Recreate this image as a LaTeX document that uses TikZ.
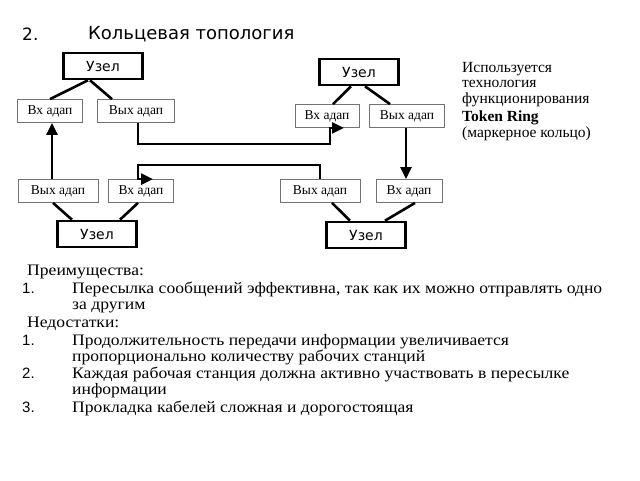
\documentclass[tikz,border=0pt]{standalone}
\usepackage{fontspec}
\setmainfont{Liberation Serif}
\newfontfamily\sansfnt{DejaVu Sans}
\newfontfamily\numfnt{Liberation Sans}
\newfontfamily\bodyfnt[FakeStretch=1.1]{Liberation Serif}
\usetikzlibrary{arrows.meta}

\begin{document}
\begin{tikzpicture}[x=1pt,y=-1pt,
    uzel/.style={draw,line width=2.6pt,minimum width=79pt,minimum height=26pt,
      inner sep=0pt,font=\sansfnt\fontsize{14}{14}\selectfont},
    adap/.style={draw=black!55,line width=0.8pt,minimum height=23pt,inner sep=0pt,
      font=\fontsize{13.5}{13.5}\selectfont},
    link/.style={line width=2.6pt},
    ring/.style={line width=2.6pt,-{Triangle[length=12pt,width=11pt]}},
    txt/.style={anchor=base west,inner sep=0pt,font=\bodyfnt\fontsize{16}{16}\selectfont},
    num/.style={anchor=base west,inner sep=0pt,font=\numfnt\fontsize{15}{15}\selectfont}]
  \useasboundingbox (0,0) rectangle (640,480);

  % title
  \node[anchor=base west,inner sep=0pt,font=\sansfnt\fontsize{17}{17}\selectfont] (tnum) at (22,40) {2.};
  \node[anchor=base west,inner sep=0pt,font=\sansfnt\fontsize{18}{18}\selectfont] (title) at (88,39) {Кольцевая топология};

  % nodes and adapters
  \node[uzel] (u1) at (103,66) {Узел};
  \node[adap,minimum width=65pt] (vx1) at (50,111) {Вх адап};
  \node[adap,minimum width=77pt] (vyx1) at (136,111) {Вых адап};

  \node[uzel] (u2) at (359,72) {Узел};
  \node[adap,minimum width=64pt] (vx2) at (327,116) {Вх адап};
  \node[adap,minimum width=75pt] (vyx2) at (407,116) {Вых адап};

  \node[adap,minimum width=80pt] (vyx3) at (58,191) {Вых адап};
  \node[adap,minimum width=65pt] (vx3) at (141,191) {Вх адап};
  \node[uzel] (u3) at (97,234) {Узел};

  \node[adap,minimum width=80pt] (vyx4) at (320,191) {Вых адап};
  \node[adap,minimum width=66pt] (vx4) at (409,191) {Вх адап};
  \node[uzel] (u4) at (366,235) {Узел};

  \begin{scope}[link]
    \draw ([xshift=-15pt]u1.south) -- (vx1.north);
    \draw ([xshift=-13pt]u1.south) -- ([xshift=-24pt]vyx1.north);
    \draw ([xshift=-8pt]u2.south) -- ([xshift=6pt]vx2.north);
    \draw ([xshift=6pt]u2.south) -- ([xshift=-17pt]vyx2.north);
    \draw ([xshift=-5pt]vyx3.south) -- ([xshift=-25pt]u3.north);
    \draw ([xshift=-3pt]vx3.south) -- ([xshift=23pt]u3.north);
    \draw ([xshift=12pt]vyx4.south) -- ([xshift=-16pt]u4.north);
    \draw ([xshift=6pt]vx4.south) -- ([xshift=19pt]u4.north);
  \end{scope}

  % ring
  \draw[ring] ([xshift=-6pt]vyx3.north) -- ([xshift=2pt]vx1.south);
  \draw[ring] ([xshift=2pt]vyx1.south) -- ++(0,21) -| ([xshift=3pt]vx2.south) -- ++(14,0);
  \draw[ring] ([xshift=-1pt]vyx2.south) -- ([xshift=-3pt]vx4.north);
  \draw[ring] (vyx4.north) -- ++(0,-14) -| ([xshift=-3pt]vx3.north) -- ++(15,0);

  % note
  \node[anchor=north west,align=left,inner sep=0pt,font=\fontsize{15.5}{15.5}\selectfont] (note) at (462,62)
    {Используется\\технология\\функционирования\\[3pt]\textbf{Token Ring}\\(маркерное кольцо)};

  % lists
  \node[txt] (plus) at (27,275) {Преимущества:};
  \node[num] (p1) at (22,293) {1.};
  \node[txt] (p1a) at (72,293) {Пересылка сообщений эффективна, так как их можно отправлять одно};
  \node[txt] (p1b) at (72,309) {за другим};
  \node[txt] (minus) at (27,327) {Недостатки:};
  \node[num] (m1) at (22,345) {1.};
  \node[txt] (m1a) at (72,345) {Продолжительность передачи информации увеличивается};
  \node[txt] (m1b) at (72,361) {пропорционально количеству рабочих станций};
  \node[num] (m2) at (22,378) {2.};
  \node[txt] (m2a) at (72,378) {Каждая рабочая станция должна активно участвовать в пересылке};
  \node[txt] (m2b) at (72,394) {информации};
  \node[num] (m3) at (22,412) {3.};
  \node[txt] (m3a) at (72,412) {Прокладка кабелей сложная и дорогостоящая};
\end{tikzpicture}
\end{document}
